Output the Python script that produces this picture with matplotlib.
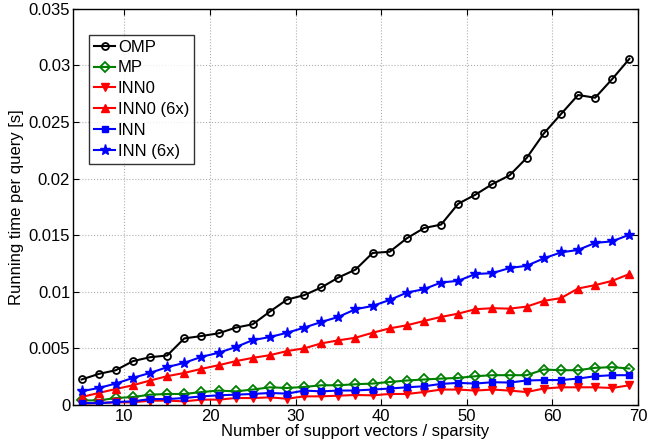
import matplotlib
matplotlib.use("Agg")
import matplotlib.pyplot as plt
import numpy as np

plt.rcParams['font.family'] = ['Liberation Sans', 'DejaVu Sans']

sparsity = list(range(5, 70, 2))

omp = [0.00225, 0.00274, 0.00307, 0.00387, 0.00422, 0.00437, 0.00588, 0.00609, 0.00633,
       0.00683, 0.00713, 0.00825, 0.00931, 0.00970, 0.01038, 0.01126, 0.01196, 0.01343,
       0.01354, 0.01473, 0.01563, 0.01594, 0.01778, 0.01858, 0.01952, 0.02029, 0.02183,
       0.02399, 0.02570, 0.02739, 0.02715, 0.02881, 0.03059]
mp = [0.00040, 0.00040, 0.00061, 0.00070, 0.00091, 0.00097, 0.00097, 0.00114, 0.00127,
      0.00120, 0.00136, 0.00156, 0.00150, 0.00159, 0.00174, 0.00174, 0.00183, 0.00189,
      0.00203, 0.00216, 0.00225, 0.00233, 0.00239, 0.00254, 0.00263, 0.00263, 0.00263,
      0.00313, 0.00307, 0.00307, 0.00328, 0.00334, 0.00322]
inn0 = [0.00010, 0.00017, 0.00023, 0.00023, 0.00038, 0.00038, 0.00032, 0.00047, 0.00047,
        0.00061, 0.00061, 0.00067, 0.00055, 0.00076, 0.00076, 0.00082, 0.00088, 0.00085,
        0.00097, 0.00097, 0.00114, 0.00136, 0.00136, 0.00127, 0.00136, 0.00127, 0.00114,
        0.00145, 0.00156, 0.00156, 0.00156, 0.00150, 0.00174]
inn0_6x = [0.00070, 0.00106, 0.00141, 0.00174, 0.00216, 0.00254, 0.00283, 0.00319, 0.00351,
           0.00387, 0.00416, 0.00440, 0.00476, 0.00500, 0.00544, 0.00571, 0.00594, 0.00638,
           0.00677, 0.00704, 0.00742, 0.00778, 0.00807, 0.00846, 0.00855, 0.00851, 0.00869,
           0.00920, 0.00944, 0.01029, 0.01059, 0.01097, 0.01157]
inn = [0.00017, 0.00015, 0.00026, 0.00032, 0.00052, 0.00052, 0.00061, 0.00076, 0.00085,
       0.00091, 0.00097, 0.00106, 0.00100, 0.00127, 0.00120, 0.00127, 0.00128, 0.00136,
       0.00145, 0.00156, 0.00165, 0.00186, 0.00195, 0.00189, 0.00201, 0.00198, 0.00216,
       0.00220, 0.00220, 0.00233, 0.00254, 0.00263, 0.00263]
inn_6x = [0.00121, 0.00150, 0.00189, 0.00239, 0.00283, 0.00334, 0.00372, 0.00425, 0.00461,
          0.00511, 0.00573, 0.00600, 0.00638, 0.00683, 0.00733, 0.00778, 0.00846, 0.00875,
          0.00928, 0.00993, 0.01023, 0.01082, 0.01097, 0.01157, 0.01165, 0.01210, 0.01230,
          0.01295, 0.01348, 0.01370, 0.01432, 0.01446, 0.01505]

x_ticks = [10, 20, 30, 40, 50, 60, 70]
y_ticks = [0, 0.005, 0.01, 0.015, 0.02, 0.025, 0.03, 0.035]
y_tick_labels = ['0', '0.005', '0.01', '0.015', '0.02', '0.025', '0.03', '0.035']

fig = plt.figure(figsize=(6.49, 4.45), dpi=100)
ax = fig.add_axes([0.1125, 0.09, 0.8705, 0.89])

green = '#008000'
lw = 1.5
ax.plot(sparsity, omp, color='black', marker='o', markersize=5, markerfacecolor='none',
        markeredgewidth=1.3, linewidth=lw, label='OMP')
ax.plot(sparsity, mp, color=green, marker='D', markersize=5, markerfacecolor='none',
        markeredgewidth=1.3, linewidth=lw, label='MP')
ax.plot(sparsity, inn0, color='red', marker='v', markersize=6, linewidth=lw, label='INN0')
ax.plot(sparsity, inn0_6x, color='red', marker='^', markersize=6, linewidth=lw, label='INN0 (6x)')
ax.plot(sparsity, inn, color='blue', marker='s', markersize=4.5, linewidth=lw, label='INN')
ax.plot(sparsity, inn_6x, color='blue', marker='*', markersize=8, linewidth=lw, label='INN (6x)')

ax.set_xlim(4, 70)
ax.set_ylim(0, 0.035)
ax.set_xticks(x_ticks)
ax.set_yticks(y_ticks)
ax.set_yticklabels(y_tick_labels)
ax.tick_params(direction='in', labelsize=12, top=True, right=True, length=4, width=0.8)
ax.tick_params(axis='x', pad=3)
ax.tick_params(axis='y', pad=2)
ax.grid(True, linestyle=':', color='#b0b0b0', linewidth=0.8)
for s in ax.spines.values():
    s.set_linewidth(1.0)

ax.set_xlabel('Number of support vectors / sparsity', fontsize=12, labelpad=0)
ax.set_ylabel('Running time per query [s]', fontsize=12, labelpad=3)

leg = ax.legend(loc='upper left', bbox_to_anchor=(0.028, 0.935), fontsize=12,
                frameon=True, fancybox=False, edgecolor='black', handlelength=1.3,
                handletextpad=0.15, borderpad=0.3, labelspacing=0.35, borderaxespad=0)
leg.get_frame().set_linewidth(1.0)

fig.savefig('out.png', dpi=100)
